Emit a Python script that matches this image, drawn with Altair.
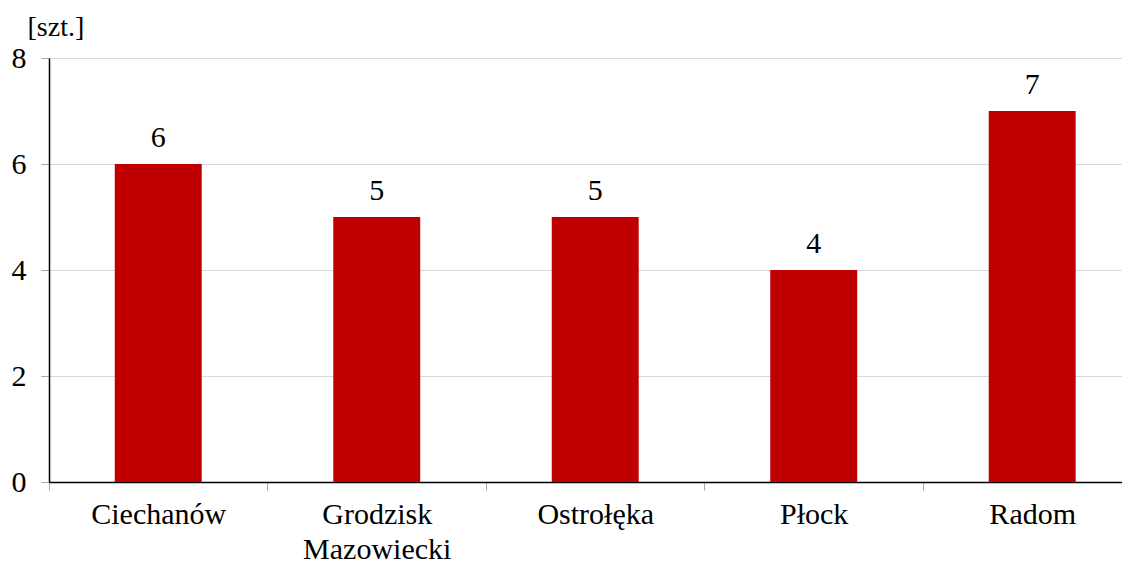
import altair as alt
import pandas as pd
import json

categories = ["Ciechanów", "Grodzisk Mazowiecki", "Ostrołęka", "Płock", "Radom"]
values = [6, 5, 5, 4, 7]
y_ticks = [0, 2, 4, 6, 8]

df = pd.DataFrame({"idx": list(range(len(categories))), "miasto": categories, "wartosc": values})

FONT = "Times New Roman, Liberation Serif, serif"

# category positions: centers at integers, boundaries at half-integers
x_axis_values = [i - 0.5 for i in range(len(categories))] + list(range(len(categories)))
names_js = json.dumps(categories, ensure_ascii=False)

x_scale = alt.Scale(domain=[-0.5, 4.411], nice=False, zero=False, padding=0)
x_axis = alt.Axis(
    title=None,
    values=x_axis_values,
    labelAngle=0,
    labelExpr=f"datum.value % 1 === 0 ? split({names_js}[datum.value], ' ') : ''",
    labelFont=FONT,
    labelFontSize=30,
    labelColor="black",
    labelLineHeight=35,
    labelPadding=9,
    labelBaseline="top",
    labelOverlap=False,
    labelBound=False,
    labelFlush=False,
    tickColor="#a6a6a6",
    tickSize=8,
    tickOpacity={"condition": {"test": "datum.value % 1 === 0", "value": 0}, "value": 1},
    domainColor="black",
    domainWidth=1.5,
    grid=False,
)

y_scale = alt.Scale(domain=[0, 8], nice=False, zero=True, padding=0)
y_axis = alt.Axis(
    title="[szt.]",
    titleAngle=0,
    titleAlign="left",
    titleBaseline="alphabetic",
    titleX=-22,
    titleY=-23,
    titleFont=FONT,
    titleFontSize=28,
    titleFontWeight="normal",
    titleColor="black",
    values=y_ticks,
    labelFont=FONT,
    labelFontSize=30,
    labelColor="black",
    labelPadding=15,
    tickColor="#a6a6a6",
    tickSize=8,
    domainColor="black",
    domainWidth=1.5,
    grid=True,
    gridColor="#d9d9d9",
    gridWidth=1,
)

bars = (
    alt.Chart(df)
    .transform_calculate(x0="datum.idx - 0.199", x1="datum.idx + 0.199")
    .mark_bar(color="#C00000")
    .encode(
        x=alt.X("x0:Q", scale=x_scale, axis=x_axis),
        x2="x1:Q",
        y=alt.Y("wartosc:Q", scale=y_scale, axis=y_axis),
        y2=alt.datum(0),
    )
)

labels = alt.Chart(df).mark_text(
    font=FONT, fontSize=30, color="black", baseline="alphabetic", dy=-17
).encode(
    x=alt.X("idx:Q", scale=x_scale),
    y=alt.Y("wartosc:Q", scale=y_scale),
    text=alt.Text("wartosc:Q"),
)

chart = (
    alt.layer(bars, labels)
    .properties(
        width=1073,
        height=424,
        autosize=alt.AutoSizeParams(type="none"),
        padding={"left": 41, "top": 50, "right": 0, "bottom": 85},
    )
    .configure_view(stroke=None)
    .configure(background="white")
)

chart.save("out.html", embed_options={"renderer": "svg", "actions": False})
